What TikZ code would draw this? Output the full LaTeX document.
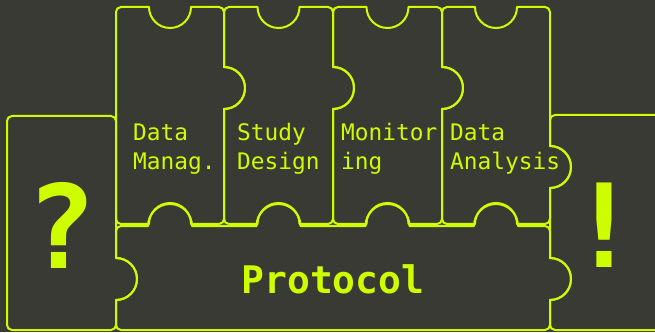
\documentclass[tikz,border=0pt]{standalone}
\usepackage{fontspec}
\setmonofont{DejaVu Sans Mono}
\definecolor{bgc}{RGB}{58,58,52}
\definecolor{lime}{RGB}{206,252,0}
\tikzset{
  piece/.style={draw=lime, line width=2pt, line join=round},
  small/.style={text=lime, inner sep=0pt, anchor=base west, font=\ttfamily\fontsize{22.8}{27}\selectfont},
  big/.style={text=lime, inner sep=0pt, anchor=base, font=\ttfamily\bfseries\fontsize{38}{40}\selectfont},
  huge/.style={text=lime, inner sep=0pt, anchor=base, font=\ttfamily\bfseries\fontsize{116}{120}\selectfont}
}
\begin{document}
\begin{tikzpicture}[x=1pt,y=1pt]
\fill[bgc] (0,0) rectangle (655,332);
\useasboundingbox (0,0) rectangle (655,332);
\clip (0,0) rectangle (655,332);
% ? piece
\draw[piece] (7,7) -- (7,211) arc[start angle=180,end angle=90,radius=5pt] -- (111,216) arc[start angle=90,end angle=0,radius=5pt] -- (116,74) arc[start angle=90,end angle=-90,radius=21pt] -- (116,7) arc[start angle=0,end angle=-90,radius=5pt] -- (12,2) arc[start angle=270,end angle=180,radius=5pt] -- cycle;
% ! piece
\draw[piece] (700,2) -- (555,2) arc[start angle=270,end angle=180,radius=5pt] -- (550,32) arc[start angle=-90,end angle=90,radius=21pt] -- (550,144) arc[start angle=-90,end angle=90,radius=21pt] -- (550,212) arc[start angle=180,end angle=90,radius=5pt] -- (700,217);
% Data Manag.
\draw[piece] (116,113) -- (116,320) arc[start angle=180,end angle=90,radius=5pt] -- (149,325) arc[start angle=180,end angle=360,radius=21pt] -- (219,325) arc[start angle=90,end angle=0,radius=5pt] -- (224,265) arc[start angle=90,end angle=-90,radius=21pt] -- (224,113) arc[start angle=0,end angle=-90,radius=5pt] -- (191,108) arc[start angle=0,end angle=180,radius=21pt] -- (121,108) arc[start angle=270,end angle=180,radius=5pt] -- cycle;
% Study Design
\draw[piece] (224,113) -- (224,223) arc[start angle=-90,end angle=90,radius=21pt] -- (224,320) arc[start angle=180,end angle=90,radius=5pt] -- (257.5,325) arc[start angle=180,end angle=360,radius=21pt] -- (328,325) arc[start angle=90,end angle=0,radius=5pt] -- (333,265) arc[start angle=90,end angle=-90,radius=21pt] -- (333,113) arc[start angle=0,end angle=-90,radius=5pt] -- (299.5,108) arc[start angle=0,end angle=180,radius=21pt] -- (229,108) arc[start angle=270,end angle=180,radius=5pt] -- cycle;
% Monitoring
\draw[piece] (333,113) -- (333,223) arc[start angle=-90,end angle=90,radius=21pt] -- (333,320) arc[start angle=180,end angle=90,radius=5pt] -- (366.5,325) arc[start angle=180,end angle=360,radius=21pt] -- (437,325) arc[start angle=90,end angle=0,radius=5pt] -- (442,265) arc[start angle=90,end angle=-90,radius=21pt] -- (442,113) arc[start angle=0,end angle=-90,radius=5pt] -- (408.5,108) arc[start angle=0,end angle=180,radius=21pt] -- (338,108) arc[start angle=270,end angle=180,radius=5pt] -- cycle;
% Data Analysis
\draw[piece] (442,113) -- (442,223) arc[start angle=-90,end angle=90,radius=21pt] -- (442,320) arc[start angle=180,end angle=90,radius=5pt] -- (475,325) arc[start angle=180,end angle=360,radius=21pt] -- (545,325) arc[start angle=90,end angle=0,radius=5pt] -- (550,186) arc[start angle=90,end angle=-90,radius=21pt] -- (550,113) arc[start angle=0,end angle=-90,radius=5pt] -- (517,108) arc[start angle=0,end angle=180,radius=21pt] -- (447,108) arc[start angle=270,end angle=180,radius=5pt] -- cycle;
% Protocol
\draw[piece] (116,7) -- (116,32) arc[start angle=-90,end angle=90,radius=21pt] -- (116,101) arc[start angle=180,end angle=90,radius=5pt] -- (148,106) arc[start angle=180,end angle=0,radius=22pt] -- (256.5,106) arc[start angle=180,end angle=0,radius=22pt] -- (365.5,106) arc[start angle=180,end angle=0,radius=22pt] -- (474,106) arc[start angle=180,end angle=0,radius=22pt] -- (545,106) arc[start angle=90,end angle=0,radius=5pt] -- (550,74) arc[start angle=90,end angle=-90,radius=21pt] -- (550,7) arc[start angle=0,end angle=-90,radius=5pt] -- (121,2) arc[start angle=270,end angle=180,radius=5pt] -- cycle;
% texts
\node[small] (dm1) at (133,191) {Data};
\node[small] (dm2) at (133,162) {Manag.};
\node[small] (sd1) at (237,191) {Study};
\node[small] (sd2) at (237,162) {Design};
\node[small] (mo1) at (341,191) {Monitor};
\node[small] (mo2) at (341,162) {ing};
\node[small] (da1) at (450,191) {Data};
\node[small] (da2) at (450,162) {Analysis};
\node[big] (prot) at (333,39) {Protocol};
\node[huge] (q) at (61.5,64) {?};
\node[huge] (ex) at (604,65) {!};
\end{tikzpicture}
\end{document}
